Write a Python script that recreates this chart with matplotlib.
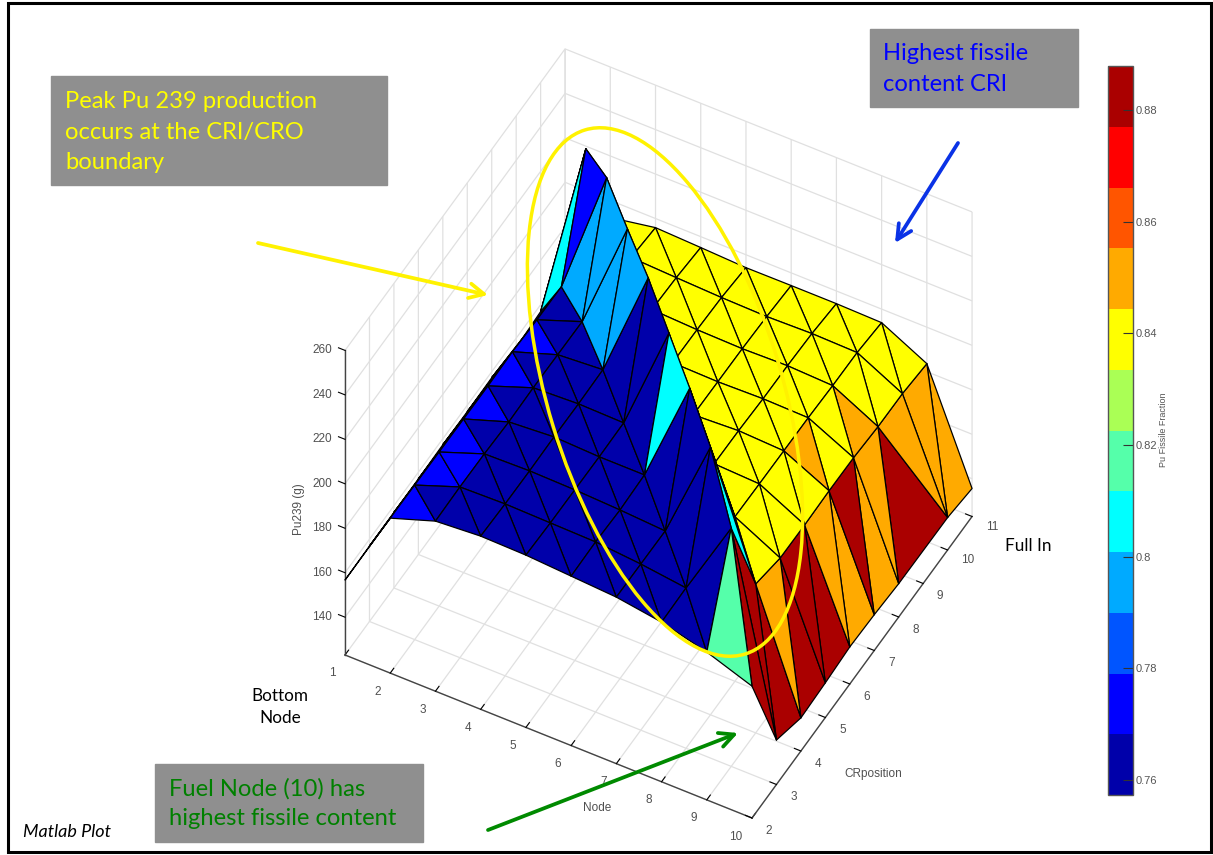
import numpy as np
import matplotlib
matplotlib.use('Agg')
import matplotlib.pyplot as plt
from matplotlib.colors import ListedColormap, BoundaryNorm
from matplotlib.cm import ScalarMappable
from matplotlib.patches import Ellipse, Rectangle
from mpl_toolkits.mplot3d import proj3d
from mpl_toolkits.mplot3d.art3d import Poly3DCollection

plt.rcParams['font.family'] = ['Liberation Sans', 'DejaVu Sans']

nodes = [1, 2, 3, 4, 5, 6, 7, 8, 9, 10]
cr_positions = [2, 3, 4, 5, 6, 7, 8, 9, 10, 11]

# Pu239 (g), one list per node, CR position 2 to 11
pu_node1 = [156.7, 156.9, 157.0, 157.0, 157.3, 157.1, 157.3, 155.8, 156.9, 181.0]
pu_node2 = [192.7, 192.5, 192.3, 192.1, 191.9, 192.2, 191.5, 191.3, 238.3, 192.3]
pu_node3 = [199.5, 199.8, 199.6, 198.9, 199.2, 199.0, 198.8, 248.5, 197.5, 195.9]
pu_node4 = [200.9, 200.3, 200.1, 200.3, 200.1, 200.4, 248.7, 197.3, 196.6, 195.1]
pu_node5 = [200.5, 199.9, 199.7, 199.5, 199.7, 249.9, 196.6, 196.4, 195.8, 194.2]
pu_node6 = [199.2, 199.5, 198.8, 199.5, 248.3, 196.4, 196.2, 196.0, 195.4, 194.3]
pu_node7 = [197.9, 197.7, 197.5, 246.7, 197.6, 197.4, 196.7, 196.5, 195.9, 194.3]
pu_node8 = [194.8, 195.1, 243.4, 197.0, 196.7, 196.5, 196.3, 195.7, 195.5, 193.9]
pu_node9 = [189.5, 230.2, 190.0, 186.6, 186.4, 186.7, 186.5, 185.4, 185.2, 183.6]
pu_node10 = [182.3, 143.0, 137.9, 138.6, 139.7, 139.1, 138.0, 137.8, 137.6, 135.6]
pu = np.array([pu_node1, pu_node2, pu_node3, pu_node4, pu_node5,
               pu_node6, pu_node7, pu_node8, pu_node9, pu_node10])

# Pu fissile fraction of the two triangles of each cell, CR position 2 to 10
lower_n1 = [.76, .76, .76, .76, .76, .76, .76, .76, .805]
lower_n2 = [.775, .775, .775, .775, .775, .775, .76, .775, .795]
lower_n3 = [.76, .76, .76, .76, .76, .76, .795, .795, .84]
lower_n4 = [.76, .76, .76, .76, .76, .795, .84, .84, .84]
lower_n5 = [.76, .76, .76, .76, .76, .84, .84, .84, .84]
lower_n6 = [.76, .76, .76, .805, .84, .84, .84, .84, .84]
lower_n7 = [.76, .76, .76, .84, .84, .84, .84, .84, .84]
lower_n8 = [.76, .76, .85, .84, .84, .85, .84, .84, .84]
lower_n9 = [.82, .88, .85, .88, .85, .88, .85]

upper_n1 = [.76, .76, .76, .76, .76, .76, .76, .805, .805]
upper_n2 = [.76, .775, .76, .76, .76, .76, .795, .795, .84]
upper_n3 = [.76, .76, .76, .76, .76, .795, .795, .84, .84]
upper_n4 = [.76, .76, .76, .76, .76, .84, .84, .84, .84]
upper_n5 = [.76, .76, .76, .76, .84, .84, .84, .84, .84]
upper_n6 = [.76, .76, .76, .84, .84, .84, .84, .84, .84]
upper_n7 = [.76, .76, .84, .84, .84, .84, .84, .84, .84]
upper_n8 = [.76, .805, .84, .84, .84, .84, .85, .84, .84]
upper_n9 = [.88, .88, .88, .88, .85, .85]

lower_frac = [lower_n1, lower_n2, lower_n3, lower_n4, lower_n5, lower_n6, lower_n7, lower_n8, lower_n9]
upper_frac = [upper_n1, upper_n2, upper_n3, upper_n4, upper_n5, upper_n6, upper_n7, upper_n8, upper_n9]

# node 10 has no mesh point at CR 9, so the last cells of that strip are irregular
extra_tris = [((10, 8), (10, 10), (9, 9), .88),
              ((9, 9), (10, 10), (9, 10), .85),
              ((9, 10), (10, 10), (9, 11), .85),
              ((9, 11), (10, 10), (10, 11), .85)]

band_colors = ['#0000AA', '#0000FF', '#0055FF', '#00AAFF', '#00FFFF', '#55FFAA',
               '#AAFF55', '#FFFF00', '#FFAA00', '#FF5500', '#FF0000', '#AA0000']
frac_min, frac_max = 0.7573, 0.8879
cbar_ticks = [0.76, 0.78, 0.8, 0.82, 0.84, 0.86, 0.88]
z_ticks = [140, 160, 180, 200, 220, 240, 260]

tris = []
for i, n in enumerate(nodes[:-1]):
    for j, f in enumerate(lower_frac[i]):
        c = cr_positions[j]
        tris.append(((n, c), (n + 1, c), (n, c + 1), f))
    for j, f in enumerate(upper_frac[i]):
        c = cr_positions[j]
        tris.append(((n + 1, c), (n + 1, c + 1), (n, c + 1), f))
tris += extra_tris

# the ridge runs along node + cr = 12, what lies behind it has to be painted first
back, front = [], []
for a, b, c, f in tris:
    if max(a[0] + a[1], b[0] + b[1], c[0] + c[1]) > 12:
        back.append((a, b, c, f))
    else:
        front.append((a, b, c, f))


def make_surf(lista, orden):
    verts = [[(p[0], p[1], pu[p[0] - 1, p[1] - 2]) for p in t[:3]] for t in lista]
    vals = np.array([t[3] for t in lista])
    return Poly3DCollection(verts, array=vals, cmap=cmap, norm=norm, zorder=orden,
                            edgecolors='black', linewidths=0.9)


cmap = ListedColormap(band_colors)
norm = BoundaryNorm(np.linspace(frac_min, frac_max, 13), 12)

fig = plt.figure(figsize=(12.13, 8.55), dpi=100)
ax = fig.add_axes([261.7 / 1213, 24.7 / 855, 772.8 / 1213, 772.8 / 855], projection='3d')
ax.set_proj_type('ortho')
ax.view_init(elev=47.8, azim=-61.6)
ax.set_box_aspect((1, 1, 0.98))
ax.patch.set_alpha(0)
ax.computed_zorder = False

ax.add_collection3d(make_surf(back, 1))
ax.add_collection3d(make_surf(front, 2))

ax.set_xlim(1, 10, view_margin=0)
ax.set_ylim(2, 11, view_margin=0)
ax.set_zlim(123, 260, view_margin=0)
ax.set_xticks(nodes)
ax.set_yticks(cr_positions)
ax.set_zticks(z_ticks)
ax.set_xticklabels([])
ax.set_yticklabels([])
ax.set_zticklabels([])
for axis in [ax.xaxis, ax.yaxis, ax.zaxis]:
    axis.set_pane_color((1, 1, 1, 0))
    axis.pane.set_edgecolor('none')
    axis.line.set_color('#444444')
    axis.line.set_linewidth(1.0)
    axis._axinfo['grid'].update(color='#e0e0e0', linewidth=0.9)
    axis._axinfo['tick']['inward_factor'] = 0.0
    axis._axinfo['tick']['outward_factor'] = 0.2
    axis._axinfo['tick']['color'] = '#444444'
ax.zaxis._axinfo['juggled'] = (1, 2, 0)

# tick labels sit at a fixed pixel offset from their tick, mplot3d puts them too low
M = ax.get_proj()


def tick_label(x, y, z, txt, dx, dy):
    px, py, _ = proj3d.proj_transform(x, y, z, M)
    ax.annotate(txt, xy=(px, py), xytext=(dx, dy), textcoords='offset pixels',
                fontsize=8.5, color='#505050', ha='center', va='center', annotation_clip=False)


for n in nodes:
    tick_label(n, 2, 123, str(n), -16 if n == 10 else -13, -18.5)
for c in cr_positions:
    if c > 9:
        tick_label(10, c, 123, str(c), 20.5, -10)
    else:
        tick_label(10, c, 123, str(c), 17, -12.5)
for z in z_ticks:
    tick_label(1, 2, z, str(z), -23, 0)

# colorbar
cax = fig.add_axes([1108 / 1213, (855 - 795) / 855, 25 / 1213, 729 / 855])
cb = fig.colorbar(ScalarMappable(norm=norm, cmap=cmap), cax=cax, ticks=cbar_ticks,
                  spacing='proportional', drawedges=False)
cb.ax.set_yticklabels(['0.76', '0.78', '0.8', '0.82', '0.84', '0.86', '0.88'])
cb.ax.tick_params(direction='in', length=7, width=0.8, color='#333333',
                  labelsize=8, labelcolor='#555555', pad=2)
cb.ax.minorticks_off()
cb.outline.set_edgecolor('#555555')
cb.outline.set_linewidth(1.0)

# everything below is placed in picture pixels
over = fig.add_axes([0, 0, 1, 1], zorder=5)
over.set_xlim(0, 1213)
over.set_ylim(855, 0)
over.axis('off')

over.add_patch(Rectangle((8, 3.5), 1203, 848, fill=False, edgecolor='black', linewidth=2.2))

grey = '#8f8f8f'
over.add_patch(Rectangle((51, 76), 336, 109, color=grey))
over.add_patch(Rectangle((870, 29), 208, 78, color=grey))
over.add_patch(Rectangle((155, 764), 268, 78, color=grey))

note = dict(family=['Lato', 'DejaVu Sans'], fontsize=17.1, va='center', ha='left', linespacing=1.55)
over.text(65, 132, 'Peak Pu 239 production\noccurs at the CRI/CRO\nboundary', color='#FFFF00', **note)
over.text(883, 69, 'Highest fissile\ncontent CRI', color='#0000FF', **note)
over.text(169, 803.5, 'Fuel Node (10) has\nhighest fissile content', color='#008000', **note)

over.add_patch(Ellipse((665, 392), 548, 234, angle=73, fill=False, edgecolor='#FFF200', linewidth=2.5))

for start, end, col in [((258, 243), (488, 295), '#FFF200'),
                        ((958, 143), (895, 243), '#0A32E6'),
                        ((488, 830), (738, 733), '#008A00')]:
    over.annotate('', xy=end, xytext=start,
                  arrowprops=dict(arrowstyle='->,head_length=0.7,head_width=0.35', mutation_scale=15,
                                  color=col, linewidth=2.7, shrinkA=0, shrinkB=0))

lab = dict(fontsize=8.5, color='#505050', ha='center', va='center')
over.text(597, 808, 'Node', **lab)
over.text(873, 774, 'CRposition', **lab)
over.text(299, 509, 'Pu239 (g)', rotation=90, **lab)
over.text(1163, 430, 'Pu Fissile Fraction', rotation=90, fontsize=6.5, color='#555555', ha='center', va='center')

side = dict(family=['Lato', 'DejaVu Sans'], color='black', ha='center', va='center')
over.text(280, 707, 'Bottom\nNode', fontsize=12.3, linespacing=1.5, **side)
over.text(1028, 546, 'Full In', fontsize=12.3, **side)
over.text(67, 832, 'Matlab Plot', fontsize=13, style='italic', **side)

fig.savefig('out.png', dpi=100)
